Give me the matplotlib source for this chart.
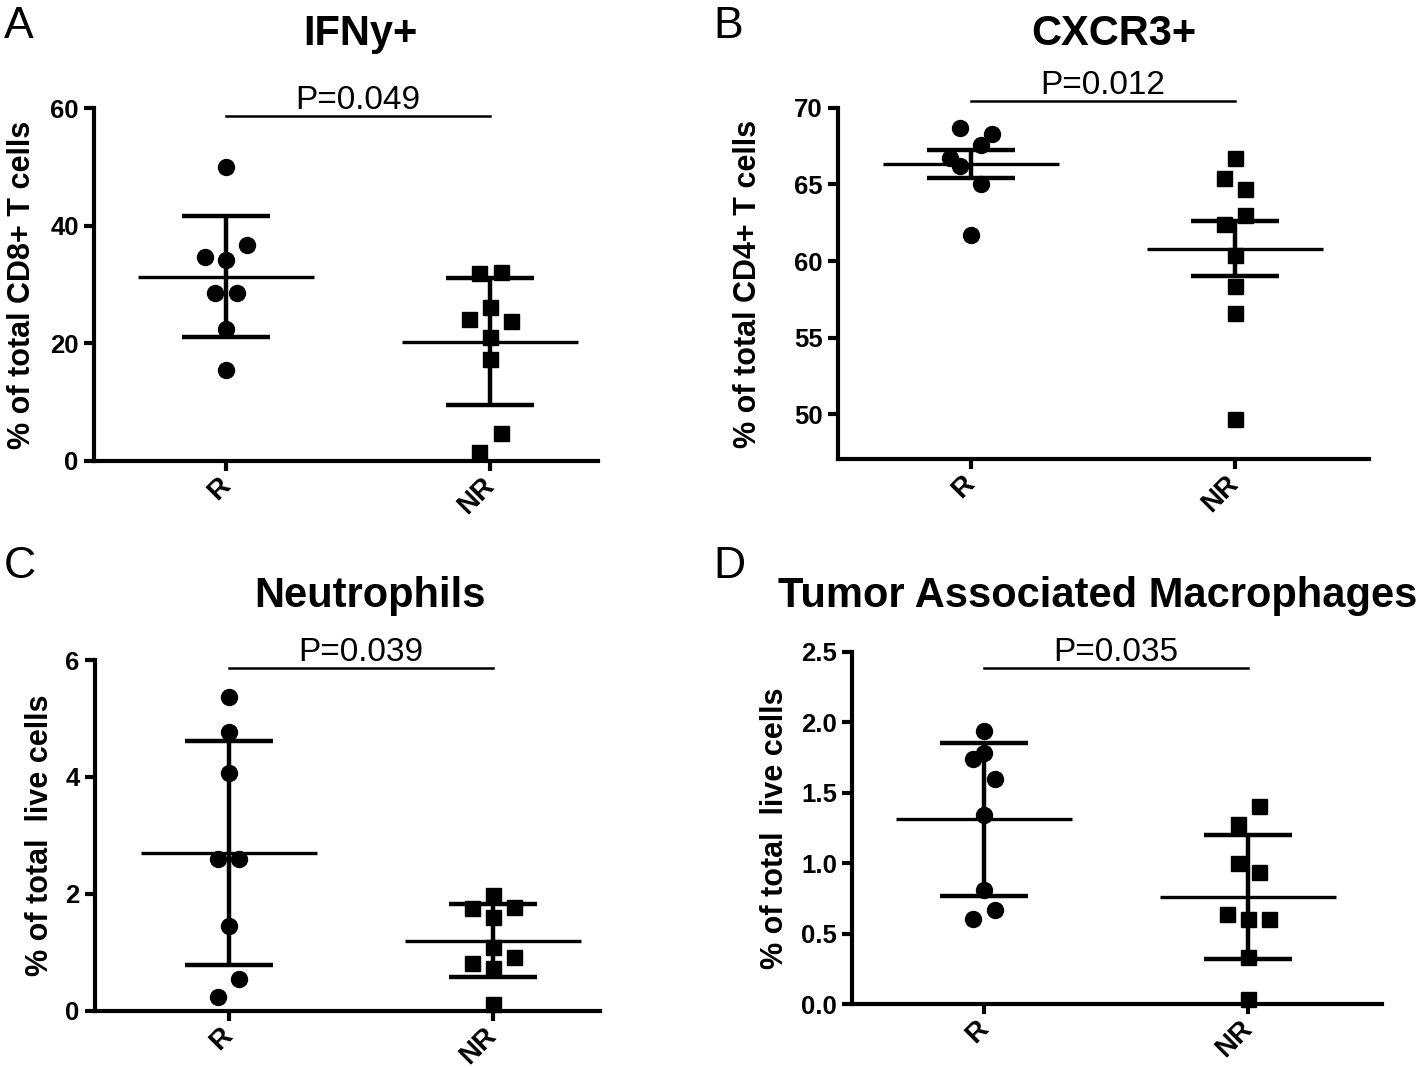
import numpy as np
import matplotlib
matplotlib.use('Agg')
import matplotlib.pyplot as plt
from matplotlib.ticker import FormatStrFormatter

plt.rcParams['font.family'] = ['Liberation Sans', 'DejaVu Sans']

groups = ['R', 'NR']

# A: IFNy+ (% of total CD8+ T cells), mean +/- SD
ifng_r = [50.0, 36.7, 34.6, 34.2, 28.6, 28.6, 22.4, 15.5]
ifng_nr = [32.0, 32.2, 26.1, 24.1, 23.8, 21.1, 17.3, 4.7, 1.5]

# B: CXCR3+ (% of total CD4+ T cells), mean +/- SEM
cxcr3_r = [68.7, 68.3, 67.6, 66.7, 66.2, 65.0, 61.7]
cxcr3_nr = [66.7, 65.4, 64.7, 63.0, 62.4, 60.4, 58.4, 56.6, 49.7]

# C: neutrophils (% of total live cells), mean +/- SD
neut_r = [5.37, 4.76, 4.07, 2.59, 2.59, 1.45, 0.55, 0.23]
neut_nr = [1.98, 1.75, 1.78, 1.61, 1.09, 0.92, 0.81, 0.73, 0.11]

# D: TAMs (% of total live cells), mean +/- SD
tam_r = [1.94, 1.78, 1.74, 1.60, 1.34, 0.81, 0.67, 0.60]
tam_nr = [1.405, 1.275, 0.999, 0.94, 0.64, 0.60, 0.60, 0.336, 0.033]

p_values = ['P=0.049', 'P=0.012', 'P=0.039', 'P=0.035']

# horizontal scatter slots (prism style spreading of close points)
ifng_r_slot = [0, 2, -2, 0, -1, 1, 0, 0]
ifng_nr_slot = [-1, 1, 0, -2, 2, 0, 0, 1, -1]
cxcr3_r_slot = [-1, 2, 1, -2, -1, 1, 0]
cxcr3_nr_slot = [0, -1, 1, 1, -1, 0, 0, 0, 0]
neut_r_slot = [0, 0, 0, -1, 1, 0, 1, -1]
neut_nr_slot = [0, -2, 2, 0, 0, 2, -2, 0, 0]
tam_r_slot = [0, 0, -1, 1, 0, 0, 1, -1]
tam_nr_slot = [1, -1, -1, 1, -2, 0, 2, 0, 0]

W, H = 1424, 1068
fig = plt.figure(figsize=(W / 100, H / 100), dpi=100)


def px_rect(left, right, top, bottom):
    return [left / W, 1 - bottom / H, (right - left) / W, (bottom - top) / H]


def panel(rect, xlim, vals_r, vals_nr, slot_r, slot_nr, err, ylim, yticks,
          ylabel, label_x, p_text, p_y, fmt=None):
    ax = fig.add_axes(rect)
    sets = [(vals_r, slot_r, 'o', 11.5), (vals_nr, slot_nr, 's', 10.8)]
    for i, (vals, slots, mk, ms) in enumerate(sets):
        vals = np.asarray(vals)
        x = i + 0.04 * np.asarray(slots)
        ax.plot(x, vals, ls='none', marker=mk, ms=ms, color='k',
                clip_on=False, zorder=3)
        m = vals.mean()
        s = vals.std(ddof=1)
        if err == 'sem':
            s = s / np.sqrt(len(vals))
        ax.hlines(m, i - 0.333, i + 0.333, color='k', lw=2.4, zorder=2)
        ax.hlines([m - s, m + s], i - 0.167, i + 0.167, color='k', lw=3.2,
                  zorder=2)
        ax.vlines(i, m - s, m + s, color='k', lw=3.2, zorder=2)

    # significance bar
    ax.plot([0, 1], [p_y, p_y], color='k', lw=1.8, clip_on=False)
    ax.annotate(p_text, xy=(0.5, p_y), xytext=(0, 5),
                textcoords='offset points', ha='center', va='baseline',
                fontsize=24, annotation_clip=False)

    ax.set_xlim(*xlim)
    ax.set_ylim(*ylim)
    ax.set_yticks(yticks)
    if fmt:
        ax.yaxis.set_major_formatter(FormatStrFormatter(fmt))
    ax.set_xticks([0, 1])
    ax.set_xticklabels(groups, rotation=45, ha='right', va='center',
                       rotation_mode='anchor', fontsize=20, fontweight='bold')
    for lab in ax.get_yticklabels():
        lab.set_fontweight('bold')
        lab.set_fontsize(18.5)
    ax.tick_params(width=3, length=7, pad=4)
    ax.tick_params(axis='x', pad=8)
    for sp in ['top', 'right']:
        ax.spines[sp].set_visible(False)
    for sp in ['left', 'bottom']:
        ax.spines[sp].set_linewidth(3)
    ax.set_ylabel(ylabel, fontsize=22, fontweight='bold', va='center')
    ax.yaxis.set_label_coords(label_x, 0.5)
    return ax


panel(px_rect(94, 598, 108, 461), (-0.5, 1.409), ifng_r, ifng_nr,
      ifng_r_slot, ifng_nr_slot, 'sd', (0, 60), [0, 20, 40, 60],
      '% of total CD8+ T cells', -0.143, p_values[0], 58.6)
panel(px_rect(838, 1369, 107.7, 459.3), (-0.503, 1.509), cxcr3_r, cxcr3_nr,
      cxcr3_r_slot, cxcr3_nr_slot, 'sem', (47.07, 70), [50, 55, 60, 65, 70],
      '% of total CD4+ T cells', -0.169, p_values[1], 70.46)
panel(px_rect(95, 600, 660, 1010.7), (-0.506, 1.406), neut_r, neut_nr,
      neut_r_slot, neut_nr_slot, 'sd', (0, 6), [0, 2, 4, 6],
      '% of total  live cells', -0.109, p_values[2], 5.86)
panel(px_rect(852.3, 1381.7, 651.7, 1004), (-0.499, 1.506), tam_r, tam_nr,
      tam_r_slot, tam_nr_slot, 'sd', (0, 2.5), [0, 0.5, 1.0, 1.5, 2.0, 2.5],
      '% of total  live cells', -0.146, p_values[3], 2.387, fmt='%.1f')

# titles and panel letters
titles = ['IFNy+', 'CXCR3+', 'Neutrophils', 'Tumor Associated Macrophages']
title_pos = [(360, 45), (1114, 45), (370, 607), (1098, 607)]
for t, (x, y) in zip(titles, title_pos):
    fig.text(x / W, 1 - y / H, t, ha='center', va='baseline', fontsize=30,
             fontweight='bold')

letters = ['A', 'B', 'C', 'D']
letter_pos = [(4, 38), (713, 38), (4, 578), (713, 578)]
for t, (x, y) in zip(letters, letter_pos):
    fig.text(x / W, 1 - y / H, t, ha='left', va='baseline', fontsize=32)

plt.savefig('out.png', format='png', dpi=100)
